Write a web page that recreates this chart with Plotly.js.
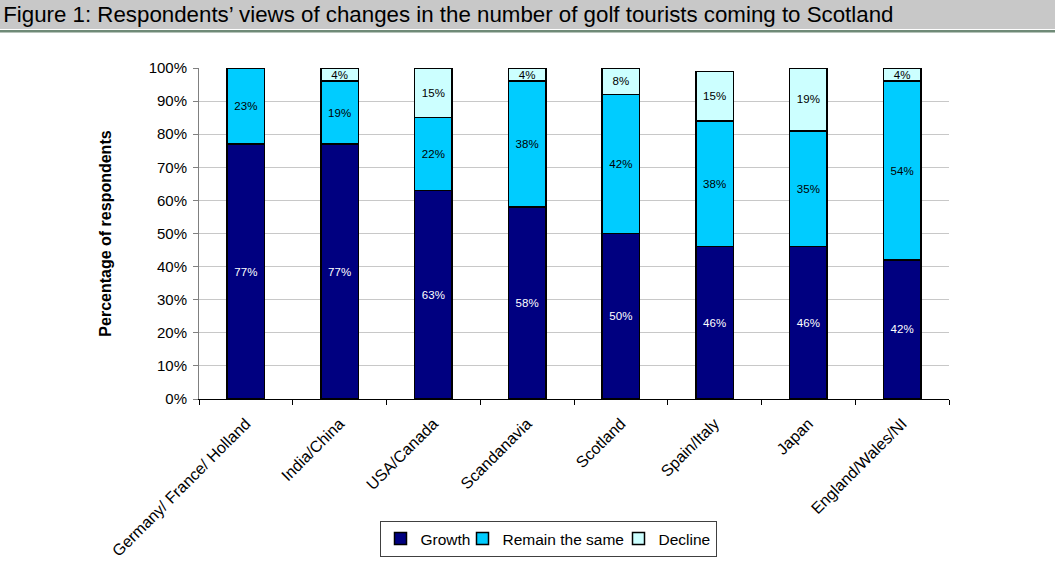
<!DOCTYPE html>
<html>
<head>
<meta charset="utf-8">
<script src="https://cdn.plot.ly/plotly-3.0.1.min.js"></script>
<style>
  html, body { margin: 0; padding: 0; background: #ffffff; }
  #chart { width: 1055px; height: 575px; }
</style>
</head>
<body>
<div id="chart"></div>
<script>
const categories = ["Germany/ France/ Holland", "India/China", "USA/Canada", "Scandanavia", "Scotland", "Spain/Italy", "Japan", "England/Wales/NI"];
const growth  = [77, 77, 63, 58, 50, 46, 46, 42];
const remain  = [23, 19, 22, 38, 42, 38, 35, 54];
const decline = [0, 4, 15, 4, 8, 15, 19, 4];
const yTicks = [0, 10, 20, 30, 40, 50, 60, 70, 80, 90, 100];

const FONT = "Liberation Sans, Arial, Helvetica, sans-serif";
const labels = arr => arr.map(v => v > 0 ? v + "%" : "");

function barTrace(name, vals, color, textColor, legendWidth) {
  const t = {
    type: "bar",
    name: name,
    x: categories,
    y: vals,
    width: 0.4,
    marker: { color: color, line: { color: "#000000", width: 1.5 } },
    text: labels(vals),
    textposition: "inside",
    insidetextanchor: "middle",
    constraintext: "none",
    textangle: 0,
    textfont: { family: FONT, size: 11.5, color: textColor },
    hoverinfo: "x+y+name"
  };
  if (legendWidth) t.legendwidth = legendWidth;
  return t;
}

const data = [
  barTrace("Growth", growth, "#000080", "#ffffff", 37),
  barTrace("Remain the same", remain, "#00ccff", "#000000", 111),
  barTrace("Decline", decline, "#ccffff", "#000000", 0)
];

// plot area: x 199..949, y 68..399
const L = 199, R = 949, T = 68, B = 399;
const W = R - L, H = B - T;
const px = x => (x - L) / W;
const py = y => (B - y) / H;

const layout = {
  width: 1055,
  height: 575,
  margin: { l: L, r: 1055 - R, t: T, b: 575 - B, pad: 0 },
  paper_bgcolor: "#ffffff",
  plot_bgcolor: "#ffffff",
  barmode: "stack",
  font: { family: FONT, color: "#000000" },
  uniformtext: { mode: "show", minsize: 11.5 },
  title: {
    text: "Figure 1: Respondents\u2019 views of changes in the number of golf tourists coming to Scotland",
    font: { family: FONT, size: 22.3, color: "#000000" },
    xref: "container", yref: "container",
    x: 0.003, xanchor: "left",
    y: 1 - 14 / 575, yanchor: "middle"
  },
  shapes: [
    { type: "rect", xref: "paper", yref: "paper", layer: "below",
      x0: px(0), x1: px(1055), y0: py(29), y1: py(0),
      fillcolor: "#c8c8c8", line: { width: 0 } },
    { type: "rect", xref: "paper", yref: "paper", layer: "below",
      x0: px(0), x1: px(1055), y0: py(32.5), y1: py(30),
      fillcolor: "#6f8a77", line: { width: 0 } }
  ],
  xaxis: {
    type: "category",
    tickson: "boundaries",
    ticks: "outside",
    ticklen: 5,
    tickcolor: "#000000",
    showline: true,
    linecolor: "#000000",
    linewidth: 1,
    showgrid: false,
    tickangle: -45,
    ticklabelstandoff: 8,
    tickfont: { family: FONT, size: 16, color: "#000000" },
    automargin: false
  },
  yaxis: {
    range: [0, 100],
    tickvals: yTicks,
    ticktext: yTicks.map(v => v + "%"),
    ticks: "outside",
    ticklen: 5,
    tickcolor: "#808080",
    showline: true,
    linecolor: "#808080",
    linewidth: 1,
    showgrid: true,
    gridcolor: "#c8c8c8",
    gridwidth: 1,
    zeroline: false,
    ticklabelstandoff: 3,
    tickfont: { family: FONT, size: 15, color: "#000000" },
    title: {
      text: "Percentage of respondents",
      font: { family: FONT, size: 16, color: "#000000", weight: "bold" },
      standoff: 33
    },
    automargin: false
  },
  showlegend: true,
  legend: {
    orientation: "h",
    x: px(548), xanchor: "center",
    y: py(521), yanchor: "top",
    bordercolor: "#404040",
    borderwidth: 1,
    bgcolor: "#ffffff",
    font: { family: FONT, size: 15.5, color: "#000000" },
    itemwidth: 30,
    traceorder: "normal"
  },
  hovermode: false
};

Plotly.newPlot("chart", data, layout, { displayModeBar: false, staticPlot: true });
</script>
</body>
</html>
